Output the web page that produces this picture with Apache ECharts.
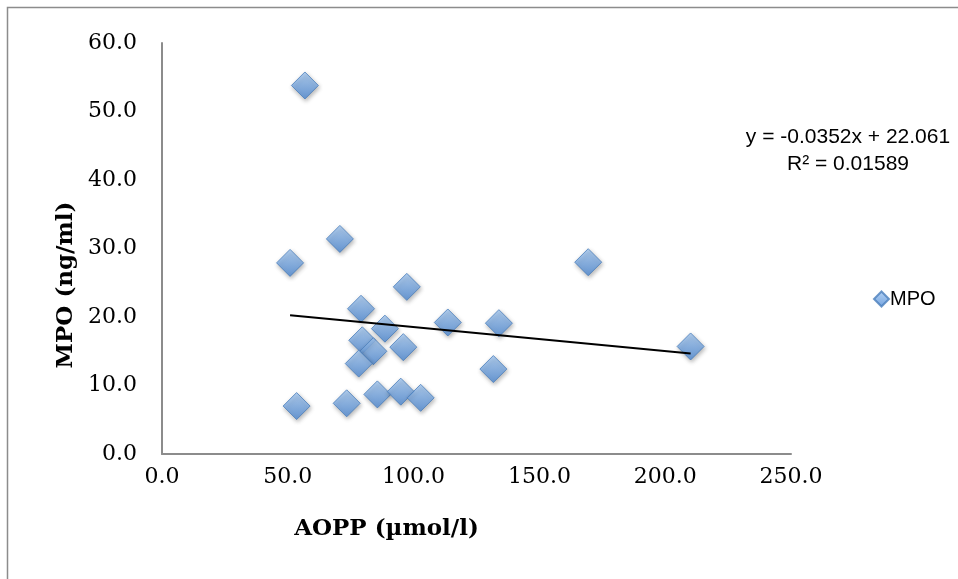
<!DOCTYPE html>
<html>
<head>
<meta charset="utf-8">
<script src="https://cdn.jsdelivr.net/npm/echarts@6/dist/echarts.min.js"></script>
<style>
  html, body { margin: 0; padding: 0; background: #fff; }
  #chart { width: 958px; height: 579px; }
</style>
</head>
<body>
<div id="chart"></div>
<script>
// AOPP (µmol/l) vs MPO (ng/ml) measurements
const aopp = [56.8, 50.9, 70.7, 97.3, 169.4, 210.1, 79.1, 88.6, 113.6, 133.9,
              79.6, 84.0, 95.9, 78.2, 131.7, 53.5, 73.4, 85.6, 94.9, 102.8];
const mpo  = [53.8, 27.9, 31.4, 24.4, 28.0, 15.7, 21.2, 18.3, 19.2, 19.1,
              16.6, 15.0, 15.6, 13.2, 12.4, 7.0, 7.4, 8.7, 9.1, 8.2];

// Linear trend line fitted to the data
const trendSlope = -0.0352;
const trendIntercept = 22.061;
const trendR2 = 0.01589;

const xTicks = [0, 50, 100, 150, 200, 250];
const yTicks = [0, 10, 20, 30, 40, 50, 60];

const points = aopp.map((x, i) => [x, mpo[i]]);
const xMin = Math.min(...aopp);
const xMax = Math.max(...aopp);
const trendPoints = [
  [xMin, trendIntercept + trendSlope * xMin],
  [xMax, trendIntercept + trendSlope * xMax]
];
const equationText = 'y = ' + trendSlope + 'x + ' + trendIntercept + '\nR² = ' + trendR2;

const tickFont = '"DejaVu Serif", serif';
const titleFont = '"DejaVu Serif", serif';
const sans = '"Liberation Sans", Arial, sans-serif';
const axisGray = '#8c8c8c';

const diamondFill = new echarts.graphic.LinearGradient(0, 0, 0, 1, [
  { offset: 0, color: '#a6caf3' },
  { offset: 1, color: '#4f8bd6' }
]);

const chart = echarts.init(document.getElementById('chart'), null, { renderer: 'canvas' });
chart.setOption({
  animation: false,
  backgroundColor: '#ffffff',
  grid: { left: 162, right: 167, top: 43, bottom: 125 },
  xAxis: {
    type: 'value',
    min: xTicks[0],
    max: xTicks[xTicks.length - 1],
    interval: xTicks[1] - xTicks[0],
    splitLine: { show: false },
    axisTick: { show: false },
    axisLine: { lineStyle: { color: axisGray, width: 2 } },
    axisLabel: {
      color: '#000', fontFamily: tickFont, fontSize: 22, margin: 12,
      formatter: v => v.toFixed(1)
    },
    name: 'AOPP (µmol/l)',
    nameLocation: 'middle',
    nameGap: 64,
    nameTextStyle: {
      color: '#000', fontFamily: titleFont, fontSize: 23, fontWeight: 'bold',
      padding: [0, 180, 0, 0]
    }
  },
  yAxis: {
    type: 'value',
    min: yTicks[0],
    max: yTicks[yTicks.length - 1],
    interval: yTicks[1] - yTicks[0],
    splitLine: { show: false },
    axisTick: { show: false },
    axisLine: { lineStyle: { color: axisGray, width: 2 } },
    axisLabel: {
      color: '#000', fontFamily: tickFont, fontSize: 22, margin: 25,
      formatter: v => v.toFixed(1)
    },
    name: 'MPO (ng/ml)',
    nameLocation: 'middle',
    nameGap: 84,
    nameTextStyle: {
      color: '#000', fontFamily: titleFont, fontSize: 23, fontWeight: 'bold',
      padding: [0, 73, 0, 0]
    }
  },
  legend: {
    left: 868,
    top: 284,
    orient: 'vertical',
    itemWidth: 15,
    itemHeight: 15,
    itemGap: 4,
    textStyle: { color: '#000', fontFamily: sans, fontSize: 20, padding: [0, 0, 0, -4] },
    data: [{ name: 'MPO', icon: 'diamond' }]
  },
  series: [
    {
      name: 'MPO',
      type: 'scatter',
      data: points,
      symbol: 'diamond',
      symbolSize: 27,
      itemStyle: {
        color: diamondFill,
        borderColor: '#4a7ebb',
        borderWidth: 1,
        shadowBlur: 4,
        shadowOffsetX: 1,
        shadowOffsetY: 2,
        shadowColor: 'rgba(0,0,0,0.35)'
      },
      z: 3
    },
    {
      name: 'Trend',
      type: 'line',
      data: trendPoints,
      showSymbol: false,
      symbol: 'none',
      lineStyle: { color: '#000', width: 2 },
      silent: true,
      z: 4
    }
  ],
  graphic: [
    {
      type: 'rect',
      shape: { x: 7.5, y: 7.5, width: 1000, height: 1000 },
      style: { fill: 'none', stroke: '#8c8c8c', lineWidth: 1.5 },
      silent: true
    },
    {
      type: 'text',
      x: 848,
      y: 124,
      style: {
        text: equationText,
        align: 'center',
        font: '21px ' + sans,
        fill: '#000',
        lineHeight: 27
      }
    }
  ]
});
</script>
</body>
</html>
